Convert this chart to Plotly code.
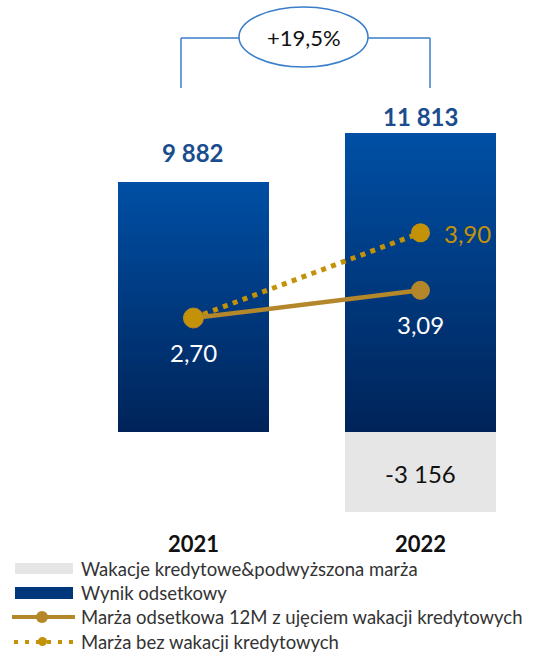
import plotly.graph_objects as go

# ---- data ----
years = ["2021", "2022"]
wynik = [9882, 11813]                 # Wynik odsetkowy
wakacje = [None, -3156]               # Wakacje kredytowe & podwyższona marża
marza_z_wakacjami = [2.70, 3.09]      # Marża odsetkowa 12M z ujęciem wakacji
marza_bez_wakacji = [None, 3.90]      # Marża bez wakacji kredytowych
growth_label = "+19,5%"
wynik_labels = ["9 882", "11 813"]
wakacje_labels = [None, "-3 156"]
marza_labels = ["2,70", "3,09"]
marza_bez_labels = [None, "3,90"]
legend_names = ["Wakacje kredytowe&podwyższona marża", "Wynik odsetkowy",
                "Marża odsetkowa 12M z ujęciem wakacji kredytowych",
                "Marża bez wakacji kredytowych"]

W, H = 534, 656
PLOT_BOTTOM = 530
FONT = "Lato"

def px(x):
    return x / W

def py(y):
    return (PLOT_BOTTOM - y) / PLOT_BOTTOM

def mix(c1, c2, t):
    return "rgb(%d,%d,%d)" % tuple(round(a + (b - a) * t) for a, b in zip(c1, c2))

BOTTOM_C = (0, 35, 88)
TOP_C = (0, 79, 164)

fig = go.Figure()

# gradient bars: overlapping bars, tallest (lightest) first
N = 60
for k in range(N):
    frac = (N - k) / N
    fig.add_trace(go.Bar(
        x=years, y=[v * frac for v in wynik],
        marker=dict(color=mix(BOTTOM_C, TOP_C, frac), line=dict(width=0)),
        width=0.665, showlegend=False, hoverinfo="skip"))

fig.add_trace(go.Bar(
    x=years, y=wakacje, width=0.665,
    marker=dict(color="#E6E6E6", line=dict(width=0)),
    showlegend=False, hoverinfo="skip"))

GOLD = "#C49208"
SOLID = "#B5872B"

# dotted line: from 2021 margin to 2022 margin without holidays
fig.add_trace(go.Scatter(
    x=years, y=[marza_z_wakacjami[0], marza_bez_wakacji[1]],
    yaxis="y2", mode="lines", line=dict(color=GOLD, width=5, dash="5px,5.5px"),
    showlegend=False, hoverinfo="skip"))
fig.add_trace(go.Scatter(
    x=years[1:], y=marza_bez_wakacji[1:], yaxis="y2", mode="markers",
    marker=dict(color=GOLD, size=19, opacity=1), showlegend=False, hoverinfo="skip"))
fig.add_trace(go.Scatter(
    x=years, y=marza_z_wakacjami, yaxis="y2", mode="lines+markers",
    line=dict(color=SOLID, width=4.5),
    marker=dict(color=[GOLD, SOLID], size=[20, 18], opacity=1),
    showlegend=False, hoverinfo="skip"))

ann = []
# bar totals
shifts = [29, 17]
for i, (v, lab) in enumerate(zip(wynik, wynik_labels)):
    ann.append(dict(x=i, y=v, text="<b>%s</b>" % lab, showarrow=False,
                    yshift=shifts[i], font=dict(family=FONT, size=24, color="#1B4D8E")))
for i, (v, lab) in enumerate(zip(wakacje, wakacje_labels)):
    if v is not None:
        ann.append(dict(x=i, y=v / 2, text=lab, showarrow=False, yshift=-2,
                        font=dict(family=FONT, size=24, color="#111111")))
for i, (v, lab) in enumerate(zip(marza_z_wakacjami, marza_labels)):
    ann.append(dict(x=i, y=v, yref="y2", text=lab, showarrow=False, yshift=-34,
                    font=dict(family=FONT, size=24, color="white")))
for i, (v, lab) in enumerate(zip(marza_bez_wakacji, marza_bez_labels)):
    if v is not None:
        ann.append(dict(x=i, y=v, yref="y2", text=lab, showarrow=False,
                        xanchor="left", xshift=22, yshift=-1,
                        font=dict(family=FONT, size=24, color=GOLD)))
# category labels
for i, yr in enumerate(years):
    ann.append(dict(x=i, xref="x", yref="paper", y=py(543), yanchor="middle",
                    text="<b>%s</b>" % yr, showarrow=False,
                    font=dict(family=FONT, size=22, color="#111111")))

# growth bracket
BR = "#3A7DC9"
shapes = [
    dict(type="line", xref="paper", yref="paper", x0=px(181), x1=px(181), y0=py(38), y1=py(88),
         line=dict(color=BR, width=1.5)),
    dict(type="line", xref="paper", yref="paper", x0=px(181), x1=px(239), y0=py(38), y1=py(38),
         line=dict(color=BR, width=1.5)),
    dict(type="line", xref="paper", yref="paper", x0=px(368), x1=px(430), y0=py(38), y1=py(38),
         line=dict(color=BR, width=1.5)),
    dict(type="line", xref="paper", yref="paper", x0=px(430), x1=px(430), y0=py(38), y1=py(88),
         line=dict(color=BR, width=1.5)),
    dict(type="circle", xref="paper", yref="paper", x0=px(239), x1=px(368), y0=py(67), y1=py(7),
         line=dict(color=BR, width=1.5), fillcolor="white"),
]
ann.append(dict(xref="paper", yref="paper", x=px(303.5), y=py(38), yanchor="middle",
                xanchor="center", text=growth_label,
                showarrow=False, font=dict(family=FONT, size=22, color="#111111")))

# custom legend
rows = [569, 593, 617, 642]
shapes.append(dict(type="rect", xref="paper", yref="paper", x0=px(15), x1=px(73),
                   y0=py(574), y1=py(563), fillcolor="#E6E6E6", line=dict(width=0)))
shapes.append(dict(type="rect", xref="paper", yref="paper", x0=px(15), x1=px(73),
                   y0=py(599), y1=py(587), fillcolor="#00367A", line=dict(width=0)))
shapes.append(dict(type="line", xref="paper", yref="paper", x0=px(12), x1=px(75),
                   y0=py(617), y1=py(617), line=dict(color=SOLID, width=4)))
shapes.append(dict(type="circle", xref="paper", yref="paper", x0=px(36), x1=px(48),
                   y0=py(623), y1=py(611), fillcolor=SOLID, line=dict(width=0)))
shapes.append(dict(type="line", xref="paper", yref="paper", x0=px(14), x1=px(73),
                   y0=py(642), y1=py(642), line=dict(color=GOLD, width=4, dash="4px,7px")))
shapes.append(dict(type="circle", xref="paper", yref="paper", x0=px(38), x1=px(47),
                   y0=py(646), y1=py(637), fillcolor=GOLD, line=dict(width=0)))
for r, name in zip(rows, legend_names):
    ann.append(dict(xref="paper", yref="paper", x=px(79), y=py(r), xanchor="left",
                    yanchor="middle", text=name, showarrow=False,
                    font=dict(family=FONT, size=18.5, color="#333333")))

fig.update_layout(
    width=W, height=H,
    margin=dict(l=0, r=0, t=0, b=H - PLOT_BOTTOM),
    barmode="overlay", bargap=0,
    paper_bgcolor="white", plot_bgcolor="white",
    showlegend=False,
    xaxis=dict(type="category", range=[-0.852, 1.5], showgrid=False, zeroline=False,
               showline=False, ticks="", showticklabels=False),
    yaxis=dict(range=[-3874, 17075], visible=False, showgrid=False, zeroline=False),
    yaxis2=dict(range=[-0.286, 7.18], overlaying="y", visible=False, showgrid=False,
                zeroline=False),
    shapes=shapes, annotations=ann,
)

fig.write_html("out.html")
